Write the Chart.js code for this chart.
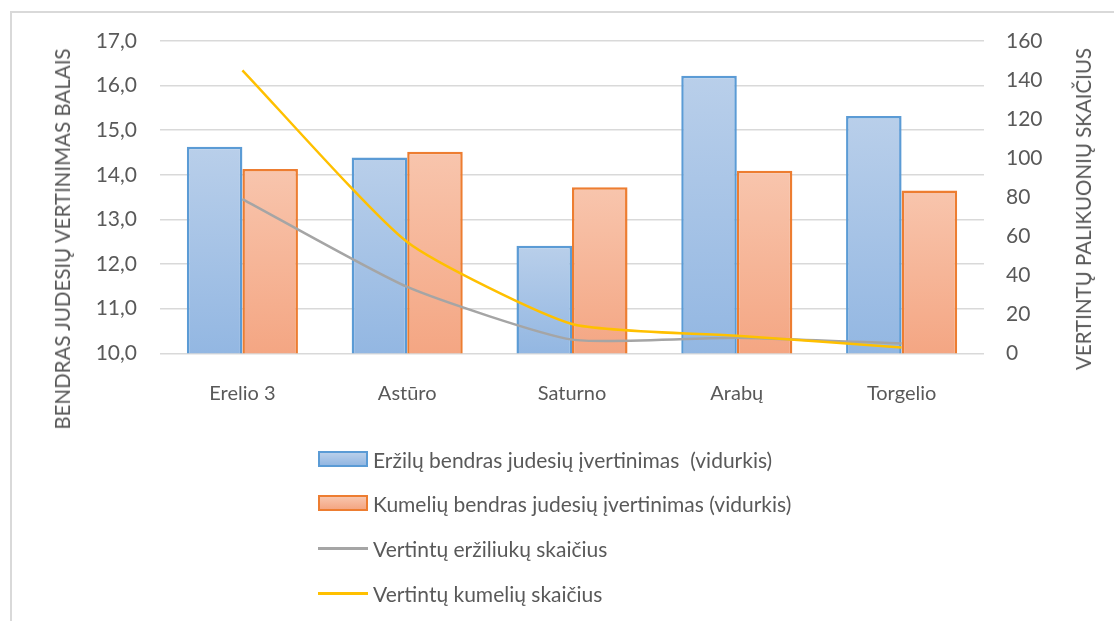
<!DOCTYPE html>
<html>
<head>
<meta charset="utf-8">
<script src="https://cdn.jsdelivr.net/npm/chart.js@4/dist/chart.umd.min.js"></script>
<style>
  html, body { margin:0; padding:0; background:#fff; }
  #wrap { position:relative; width:1114px; height:621px; overflow:hidden; font-family: Lato, "Liberation Sans", sans-serif; }
  #frame { position:absolute; left:10px; top:11px; width:1200px; height:700px; border-left:2px solid #d9d9d9; border-top:2px solid #d9d9d9; box-sizing:border-box; }
  canvas { position:absolute; left:0; top:0; }
  .ytitle { position:absolute; white-space:nowrap; color:#595959; font-size:20.5px; transform-origin:center center; transform:translate(-50%,-50%) rotate(-90deg); }
  #legend { position:absolute; left:318px; top:0; }
  .li { position:absolute; left:0; white-space:pre; color:#595959; font-size:21px; }
  .sw { position:absolute; left:0; }
  .lt { position:absolute; left:55px; transform:translateY(-50%); white-space:pre; }
</style>
</head>
<body>
<div id="wrap">
  <div id="frame"></div>
  <canvas id="c" width="1114" height="621"></canvas>
  <div class="ytitle" id="tl" style="left:62px; top:239px;"></div>
  <div class="ytitle" id="tr" style="left:1083px; top:209px;"></div>
  <div id="legend"></div>
</div>
<script>
const categories = ["Erelio 3", "Astūro", "Saturno", "Arabų", "Torgelio"];
const seriesNames = [
  "Eržilų bendras judesių įvertinimas  (vidurkis)",
  "Kumelių bendras judesių įvertinimas (vidurkis)",
  "Vertintų eržiliukų skaičius",
  "Vertintų kumelių skaičius"
];
const stallionScore = [14.63, 14.39, 12.41, 16.22, 15.32];
const mareScore = [14.13, 14.52, 13.72, 14.09, 13.65];
const stallionCount = [79, 34, 7, 8, 5];
const mareCount = [145, 57, 15, 9, 3];
const leftTitle = "BENDRAS JUDESIŲ VERTINIMAS BALAIS";
const rightTitle = "VERTINTŲ PALIKUONIŲ SKAIČIUS";

document.getElementById('tl').textContent = leftTitle;
document.getElementById('tr').textContent = rightTitle;

function barGradient(top, bottom) {
  return function(ctx) {
    const chart = ctx.chart;
    if (ctx.type !== 'data' || !chart.scales || !chart.scales.y || !chart.chartArea) return top;
    const ys = chart.scales.y;
    const yt = ys.getPixelForValue(ctx.raw);
    const yb = ys.getPixelForValue(ys.min);
    if (!isFinite(yt) || !isFinite(yb) || yt === yb) return top;
    const g = chart.ctx.createLinearGradient(0, yt, 0, yb);
    g.addColorStop(0, top);
    g.addColorStop(1, bottom);
    return g;
  };
}

const fontFam = 'Lato, "Liberation Sans", sans-serif';
const chart = new Chart(document.getElementById('c'), {
  data: {
    labels: categories,
    datasets: [
      { type:'bar', label: seriesNames[0], data: stallionScore, yAxisID:'y', order:2,
        backgroundColor: barGradient('#b9cfea', '#93b7e2'), borderColor:'#5b9bd5', borderWidth:2.5,
        categoryPercentage:0.674, barPercentage:1.0 },
      { type:'bar', label: seriesNames[1], data: mareScore, yAxisID:'y', order:2,
        backgroundColor: barGradient('#f8c5ad', '#f4a683'), borderColor:'#ed7d31', borderWidth:2.5,
        categoryPercentage:0.674, barPercentage:1.0 },
      { type:'line', label: seriesNames[2], data: stallionCount, yAxisID:'y2', order:1,
        borderColor:'#a5a5a5', borderWidth:2.5, pointRadius:0, tension:0.18, fill:false },
      { type:'line', label: seriesNames[3], data: mareCount, yAxisID:'y2', order:0,
        borderColor:'#ffc000', borderWidth:2.5, pointRadius:0, tension:0.18, fill:false }
    ]
  },
  options: {
    responsive:false,
    animation:false,
    layout:{ padding:{ left:0, right:0, top:41, bottom:0 } },
    plugins:{ legend:{ display:false }, tooltip:{ enabled:false } },
    scales:{
      x:{
        grid:{ display:false, drawTicks:false },
        border:{ display:false },
        ticks:{ color:'#595959', font:{ family:fontFam, size:20 }, padding:28 },
        afterFit(s){ s.height = 621 - 41 - 312.3; }
      },
      y:{
        position:'left', min:10, max:17,
        grid:{ color:'#d9d9d9', lineWidth:1.5, drawTicks:false },
        border:{ display:false },
        ticks:{ stepSize:1, color:'#595959', font:{ family:fontFam, size:21 }, padding:23,
          callback:(v)=> v.toFixed(1).replace('.', ',') },
        afterFit(s){ s.width = 160; }
      },
      y2:{
        position:'right', min:0, max:160,
        grid:{ display:false, drawTicks:false },
        border:{ display:false },
        ticks:{ stepSize:20, color:'#595959', font:{ family:fontFam, size:21 }, padding:22 },
        afterFit(s){ s.width = 130; }
      }
    }
  }
});

// legend built from chart datasets
const leg = document.getElementById('legend');
const rowsY = [459, 503, 548, 593];
chart.data.datasets.forEach((ds, i) => {
  const row = document.createElement('div');
  row.className = 'li';
  row.style.top = rowsY[i] + 'px';
  const sw = document.createElement('div');
  sw.className = 'sw';
  if (ds.type === 'bar') {
    const t = i === 0 ? '#b9cfea' : '#f8c5ad';
    const b = i === 0 ? '#93b7e2' : '#f4a683';
    sw.style.cssText = `left:0;top:-8px;width:50px;height:16px;box-sizing:border-box;border:2px solid ${ds.borderColor};background:linear-gradient(${t},${b});`;
  } else {
    sw.style.cssText = `left:0;top:-1px;width:50px;height:2.5px;background:${ds.borderColor};`;
  }
  const tx = document.createElement('div');
  tx.className = 'lt';
  tx.textContent = ds.label;
  row.appendChild(sw);
  row.appendChild(tx);
  leg.appendChild(row);
});
</script>
</body>
</html>
